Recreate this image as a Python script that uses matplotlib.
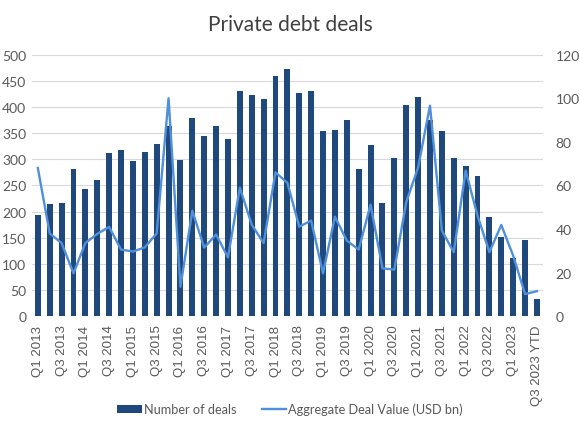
import matplotlib
matplotlib.use('Agg')
import matplotlib.pyplot as plt
import numpy as np

# quarters Q1 2013 .. Q3 2023 (last one is year-to-date)
quarters = [f"Q{q} {y}" for y in range(2013, 2024) for q in range(1, 5)][:43]
quarters[-1] = "Q3 2023 YTD"

num_deals = [194, 215, 216, 282, 243, 260, 313, 317, 296, 314,
             329, 364, 298, 379, 344, 364, 338, 430, 422, 416,
             459, 473, 427, 430, 355, 356, 375, 282, 328, 216,
             302, 403, 420, 375, 355, 302, 287, 269, 189, 152,
             111, 146, 33]
deal_value = [68, 38, 33.6, 19.7, 33.6, 37.8, 41, 30.6, 29.7, 31.6,
              38, 100, 13.5, 48.4, 31.5, 37.5, 27, 59, 42, 33.6,
              66, 61.2, 41.1, 43.9, 19.7, 45.7, 34.7, 30.6, 51.2, 22,
              21.4, 52.3, 68.3, 96.6, 39.3, 29.4, 66.8, 46.2, 29.4, 41.9,
              27.8, 10.2, 11.5]

bar_color = '#1f497d'
line_color = '#4f8fdc'
text_color = '#595959'

fig = plt.figure(figsize=(5.8, 4.35), dpi=100)
ax = fig.add_axes([0.055, 0.2706, 0.881, 0.6014])
ax2 = ax.twinx()

x = np.arange(len(quarters))
bars = ax.bar(x, num_deals, width=0.5, color=bar_color, zorder=2, label='Number of deals')
line, = ax2.plot(x, deal_value, color=line_color, lw=1.7, zorder=3,
                 label='Aggregate Deal Value (USD bn)')

ax.set_xlim(-0.5, len(quarters) - 0.5)
ax.set_ylim(0, 500)
ax.set_yticks(range(0, 501, 50))
ax2.set_ylim(0, 120)
ax2.set_yticks(range(0, 121, 20))

ax.grid(axis='y', color='#d9d9d9', lw=0.8, zorder=0)
ax.set_axisbelow(True)
for a in (ax, ax2):
    for s in a.spines.values():
        s.set_visible(False)
    a.tick_params(length=0, colors=text_color, labelsize=10)
    for lab in a.get_yticklabels():
        lab.set_family('Lato')

ax.tick_params(axis='y', pad=4)
ax2.tick_params(axis='y', pad=9)

ax.set_xticks(x[::2])
ax.set_xticklabels(quarters[::2], rotation=90, fontsize=9.5,
                   family='Liberation Sans', color=text_color)
ax.tick_params(axis='x', pad=6)

fig.suptitle('Private debt deals', y=0.965, fontsize=15, family='Lato', color='#404040')

fig.legend(handles=[bars, line], loc='center', bbox_to_anchor=(0.5, 0.057), ncol=2,
           frameon=False, prop={'family': 'Lato', 'size': 9.2}, labelcolor=text_color,
           handlelength=1.9, handletextpad=0.15, columnspacing=2.0)

fig.savefig('out.png', dpi=100)
